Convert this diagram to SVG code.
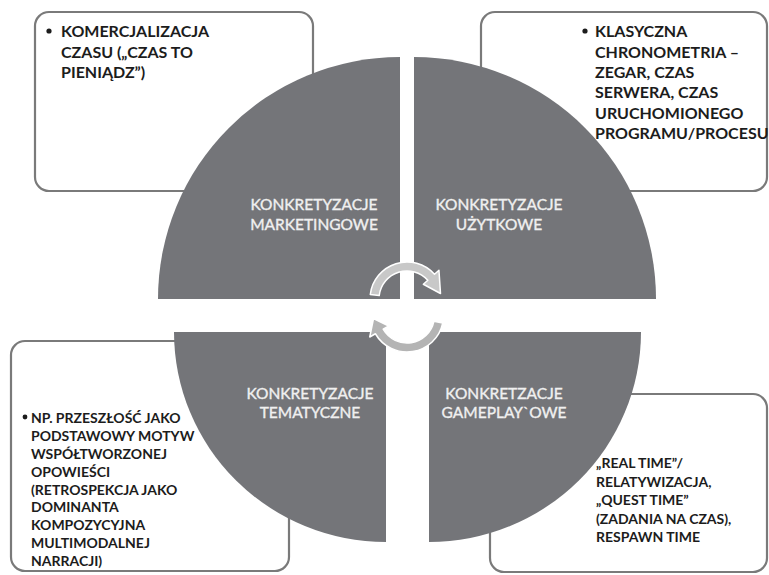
<svg xmlns="http://www.w3.org/2000/svg" width="769" height="575" viewBox="0 0 769 575">
<style>
.box{fill:#ffffff;stroke:#7a7a7a;stroke-width:2.2}
.quad{fill:#747579}
.bt{font-family:Lato,"Liberation Sans",sans-serif;font-weight:bold;font-size:16px;fill:#1c1c1c}
.bs{font-family:Lato,"Liberation Sans",sans-serif;font-weight:bold;font-size:14px;fill:#1c1c1c}
.ql{font-family:Lato,"Liberation Sans",sans-serif;font-size:15.5px;fill:#f0f0f0;stroke:#f0f0f0;stroke-width:0.35;text-anchor:middle}
.bul{fill:#1c1c1c}
.arr{stroke:#ffffff;stroke-width:1.5;stroke-linejoin:round}
</style>
<rect width="769" height="575" fill="#ffffff"/>
<g id="box-marketing">
<rect class="box" x="35" y="12" width="278" height="179" rx="14"/>
<circle class="bul" cx="49" cy="31" r="2.6"/>
<text class="bt"><tspan x="61" y="37">KOMERCJALIZACJA</tspan><tspan x="61" y="58">CZASU („CZAS TO</tspan><tspan x="61" y="78">PIENIĄDZ”)</tspan></text>
</g>
<g id="box-uzytkowe">
<rect class="box" x="481" y="12" width="286" height="179" rx="14"/>
<circle class="bul" cx="585" cy="31" r="2.6"/>
<text class="bt"><tspan x="595" y="37">KLASYCZNA</tspan><tspan x="595" y="57.5">CHRONOMETRIA –</tspan><tspan x="595" y="78">ZEGAR, CZAS</tspan><tspan x="595" y="98">SERWERA, CZAS</tspan><tspan x="595" y="118.5">URUCHOMIONEGO</tspan><tspan x="595" y="139">PROGRAMU/PROCESU</tspan></text>
</g>
<g id="box-tematyczne">
<rect class="box" x="11" y="341" width="278" height="230" rx="14"/>
<circle class="bul" cx="25" cy="417" r="2.4"/>
<text class="bs"><tspan x="31" y="423">NP. PRZESZŁOŚĆ JAKO</tspan><tspan x="31" y="441">PODSTAWOWY MOTYW</tspan><tspan x="31" y="459">WSPÓŁTWORZONEJ</tspan><tspan x="31" y="477">OPOWIEŚCI</tspan><tspan x="31" y="494.5">(RETROSPEKCJA JAKO</tspan><tspan x="31" y="512">DOMINANTA</tspan><tspan x="31" y="530">KOMPOZYCYJNA</tspan><tspan x="31" y="548">MULTIMODALNEJ</tspan><tspan x="31" y="565.5">NARRACJI)</tspan></text>
</g>
<g id="box-gameplay">
<rect class="box" x="490" y="394" width="277" height="178" rx="14"/>
<text class="bs"><tspan x="596" y="468">„REAL TIME”/</tspan><tspan x="596" y="487">RELATYWIZACJA,</tspan><tspan x="596" y="505">„QUEST TIME”</tspan><tspan x="596" y="523.5">(ZADANIA NA CZAS),</tspan><tspan x="596" y="542">RESPAWN TIME</tspan></text>
</g>
<g id="quad-marketingowe">
<path class="quad" d="M400,299 L158,299 A242,242 0 0 1 400,57 Z"/>
<text class="ql"><tspan x="314" y="210">KONKRETYZACJE</tspan><tspan x="314" y="230">MARKETINGOWE</tspan></text>
</g>
<g id="quad-uzytkowe">
<path class="quad" d="M414,299 L414,57 A242,242 0 0 1 656,299 Z"/>
<text class="ql"><tspan x="499" y="210">KONKRETYZACJE</tspan><tspan x="499" y="230">UŻYTKOWE</tspan></text>
</g>
<g id="quad-tematyczne">
<path class="quad" d="M386,332 L174,332 A212,210 0 0 0 386,542 Z"/>
<text class="ql"><tspan x="310" y="399">KONKRETYZACJE</tspan><tspan x="310" y="418">TEMATYCZNE</tspan></text>
</g>
<g id="quad-gameplay">
<path class="quad" d="M429,332 L429,542 A212,210 0 0 0 641,332 Z"/>
<text class="ql"><tspan x="504" y="399">KONKRETZACJE</tspan><tspan x="504" y="418">GAMEPLAY`OWE</tspan></text>
</g>
<g id="connectors">
<path class="arr" fill="#c8c8c8" d="M370.28,294.49 A37,37 0 0 1 434.50,274.24 L438.95,270.23 L440.5,293.5 L423.35,284.28 L427.81,280.27 A28,28 0 0 0 379.21,295.59 Z"/>
<path class="arr" fill="#b4b4b4" d="M442.70,323.09 A36.5,36.5 0 0 1 375.39,333.75 L369.76,337.0 L373.5,318.5 L388.81,326.0 L383.18,329.25 A27.5,27.5 0 0 0 433.90,321.22 Z"/>
</g>
</svg>
